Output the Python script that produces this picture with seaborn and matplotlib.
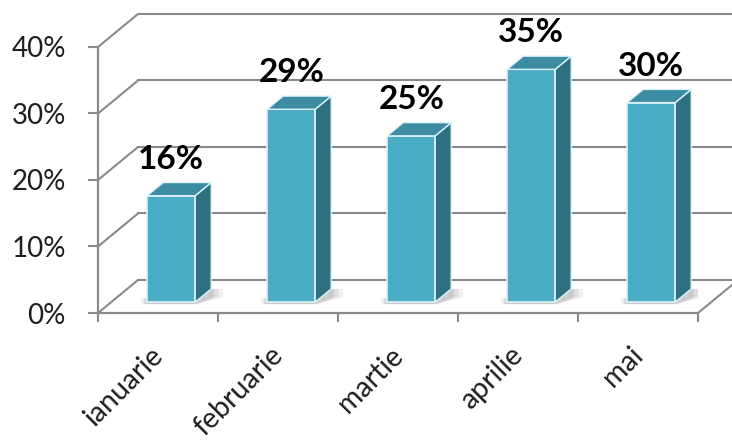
import numpy as np
import pandas as pd
import matplotlib
matplotlib.use("Agg")
import matplotlib.pyplot as plt
from matplotlib.patches import Polygon
from matplotlib.transforms import ScaledTranslation
import seaborn as sns

# ---- data ----
months = ["ianuarie", "februarie", "martie", "aprilie", "mai"]
values = [16, 29, 25, 35, 30]
value_labels = ["16%", "29%", "25%", "35%", "30%"]
y_ticks = [0, 10, 20, 30, 40]
y_tick_labels = ["0%", "10%", "20%", "30%", "40%"]

sns.set_style("white")
plt.rcParams["font.family"] = ["Lato", "DejaVu Sans"]

FRONT = "#4BACC6"
SIDE = "#2E6F82"
TOP = "#3C8DA4"
EDGE = "#DDF3F8"
GRID = "#8A8A8A"
TXT = "#1E1E1E"

fig = plt.figure(figsize=(7.32, 4.44), dpi=100)
ax = fig.add_axes([98 / 732, (444 - 313) / 444, 600 / 732, 266 / 444])

df = pd.DataFrame({"month": months, "value": values})
sns.barplot(data=df, x="month", y="value", color=FRONT, saturation=1,
            width=0.4, edgecolor=EDGE, linewidth=1.2, ax=ax, zorder=4)

ax.set_xlim(-0.5, 4.5)
ax.set_ylim(0, 40)
ax.set_xlabel("")
ax.set_ylabel("")
for s in ax.spines.values():
    s.set_visible(False)

# depth vector (data units) of the pseudo-3D box
DX = 40 / 120
DY = 33 / (266 / 40)
f0, f1 = 0.33, 0.73
xl, xr = -0.5, 4.5

# back wall gridlines + left wall diagonals
for v in y_ticks:
    ax.plot([xl, xl + DX], [v, v + DY], color=GRID, lw=1.5, clip_on=False, zorder=1)
    ax.plot([xl + DX, xr + DX + 1.0], [v + DY, v + DY], color=GRID, lw=1.5,
            clip_on=False, zorder=1)
# floor front edge + right diagonal, vertical axis
ax.plot([xl, xr], [0, 0], color=GRID, lw=1.6, clip_on=False, zorder=2)
ax.plot([xr, xr + DX], [0, DY], color=GRID, lw=1.5, clip_on=False, zorder=2)
ax.plot([xl, xl], [0, 40], color=GRID, lw=1.6, clip_on=False, zorder=2)

# 3D faces built from seaborn bars
ddx, ddy = (f1 - f0) * DX, (f1 - f0) * DY
for p, lbl in zip(list(ax.patches), value_labels):
    x0 = p.get_x() + f0 * DX
    w = p.get_width()
    h = p.get_height()
    y0 = f0 * DY
    p.set_x(x0)
    p.set_y(y0)
    x1 = x0 + w
    y1 = y0 + h
    # shadow on floor
    for k, a in [(0.05, 0.14), (0.03, 0.2), (0.012, 0.26)]:
        sh = Polygon([(x0 - k, y0 - 0.3), (x1 + k * 0.5, y0 - 0.3),
                      (x1 + ddx + k * 2, y0 + ddy * 0.4), (x1 + ddx + k * 2, y0 + ddy),
                      (x0 + ddx, y0 + ddy), (x0 - k, y0 + 0.5)],
                     closed=True, facecolor="#9A9A9A", edgecolor="none", alpha=a, zorder=3)
        ax.add_patch(sh)
    side = Polygon([(x1, y0), (x1 + ddx, y0 + ddy), (x1 + ddx, y1 + ddy), (x1, y1)],
                   closed=True, facecolor=SIDE, edgecolor=EDGE, lw=1.0, zorder=4)
    top = Polygon([(x0, y1), (x1, y1), (x1 + ddx, y1 + ddy), (x0 + ddx, y1 + ddy)],
                  closed=True, facecolor=TOP, edgecolor=EDGE, lw=1.0, zorder=4)
    ax.add_patch(side)
    ax.add_patch(top)
    ax.annotate(lbl, (x0 + w / 2, y1), xytext=(0, 19.5), textcoords="offset points",
                ha="center", va="baseline", fontsize=24, fontweight="bold",
                color="#000000", zorder=6)

# ticks
ax.set_yticks(y_ticks, y_tick_labels)
ax.tick_params(axis="y", left=True, length=7.2, width=1.5, color=GRID, pad=16,
               labelsize=20, labelcolor=TXT)
ax.set_xticks(range(len(months)), months, rotation=45, ha="right",
              rotation_mode="anchor")
ax.tick_params(axis="x", which="major", bottom=False, length=0, pad=21,
               labelsize=20.5, labelcolor=TXT)
shift = ScaledTranslation(-8 / 100, 0, fig.dpi_scale_trans)
for t in ax.get_xticklabels():
    t.set_transform(t.get_transform() + shift)
ax.set_xticks(np.arange(-0.5, len(months), 1), minor=True)
ax.tick_params(axis="x", which="minor", bottom=True, length=6.5, width=1.5,
               color=GRID)
ax.grid(False)

fig.savefig("out.png", dpi=100)
